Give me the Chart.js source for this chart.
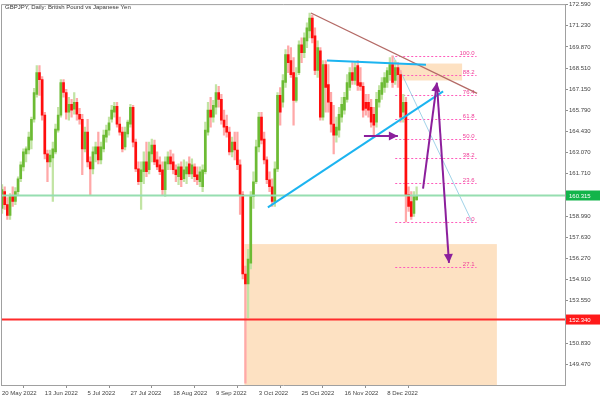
<!DOCTYPE html>
<html><head><meta charset="utf-8">
<script src="https://cdn.jsdelivr.net/npm/chart.js@4/dist/chart.umd.min.js"></script>
<style>html,body{margin:0;padding:0;background:#fff}#wrap{width:600px;height:400px}</style>
</head><body><div id="wrap"><canvas id="c" width="600" height="400"></canvas></div>
<script>
const chartTitle = 'GBPJPY, Daily: British Pound vs Japanese Yen';
const tickLabels = ['20 May 2022','13 Jun 2022','5 Jul 2022','27 Jul 2022','18 Aug 2022','9 Sep 2022','3 Oct 2022','25 Oct 2022','16 Nov 2022','8 Dec 2022'];
const tickEvery = 16;
const yTicks = [172.59,171.23,169.87,168.51,167.15,165.79,164.43,163.07,161.71,158.99,157.63,156.27,154.91,153.55,150.83,149.47];

const opens = [159.48,160.56,159.73,159.03,160.25,159.93,160.56,161.39,162.16,162.99,
163.24,163.88,165.22,166.82,168.22,167.77,165.48,162.99,162.48,162.73,
163.12,164.52,165.48,167.58,166.94,165.67,166.18,165.86,166.31,165.54,
165.22,163.31,164.39,162.48,162.03,162.99,163.44,162.61,163.31,164.07,
164.52,165.22,165.67,166.05,164.90,164.39,163.44,164.27,164.90,165.99,
163.75,162.03,161.20,161.84,162.48,161.97,162.99,163.56,162.61,162.29,
161.97,160.69,162.35,162.80,162.48,161.97,161.52,162.16,161.39,161.71,
162.35,161.71,162.16,161.65,161.20,160.88,161.84,164.39,165.80,165.35,
165.99,166.94,166.50,165.16,164.77,164.39,163.12,163.75,163.24,162.29,
160.37,155.27,154.63,155.97,160.25,161.20,163.44,165.35,163.95,162.61,
161.33,160.88,159.93,162.03,166.75,166.31,167.58,169.37,168.99,168.22,
166.43,168.22,170.00,169.50,170.26,170.90,171.73,170.58,168.35,169.62,
165.35,168.73,167.45,166.31,164.90,164.20,164.52,165.35,165.80,166.50,
167.26,168.22,167.71,168.67,167.58,167.33,166.31,166.31,165.99,165.54,
165.03,166.31,166.82,167.26,167.58,168.09,168.73,167.71,168.54,168.09,
165.67,166.31,160.37,159.93,159.16,160.05];
const highs = [161.01,160.88,160.18,160.44,160.88,160.82,161.52,162.48,163.31,163.44,
164.39,165.35,167.20,168.67,168.67,167.96,165.67,163.24,163.24,163.75,
164.90,165.99,167.77,167.77,167.14,166.63,166.50,166.94,166.56,165.92,
165.54,164.71,165.22,162.80,163.44,163.75,164.39,163.75,164.52,164.84,
165.35,166.11,166.31,166.31,165.35,164.71,164.71,165.16,166.18,166.11,
163.95,162.48,162.48,163.12,163.75,163.75,163.95,163.88,163.12,162.80,
162.48,162.80,163.12,163.24,162.99,162.29,162.35,162.48,162.61,162.48,
162.80,162.67,162.35,162.16,162.16,162.29,165.03,166.31,166.63,166.43,
167.45,167.33,166.82,165.80,165.48,164.71,164.07,164.39,164.39,162.61,
160.56,155.78,156.86,160.56,161.84,163.88,165.67,165.67,164.39,162.80,
161.84,161.39,162.48,166.94,167.26,168.09,169.69,169.94,169.82,169.18,
168.54,170.26,170.45,170.77,171.41,172.05,171.92,171.09,170.26,169.82,
168.99,168.99,168.73,166.95,166.11,165.35,165.99,166.63,166.95,168.09,
168.54,168.86,168.86,168.99,168.54,167.58,166.82,166.82,166.50,165.99,
166.95,167.39,167.90,168.22,168.54,169.18,169.30,168.99,168.86,168.35,
166.82,166.63,160.88,160.56,160.56,160.88];
const lows = [159.16,159.42,158.78,158.78,159.61,159.73,160.37,161.20,161.90,162.48,
162.99,163.31,165.03,166.63,166.75,165.16,162.67,161.20,162.16,159.93,
162.99,164.39,165.35,166.63,165.22,165.16,165.35,165.54,165.16,164.90,
161.65,163.12,162.16,160.37,161.71,162.48,162.35,162.35,163.12,163.75,
164.20,165.03,165.35,164.71,164.20,163.12,163.24,164.07,164.71,163.44,
161.84,161.01,159.42,161.07,161.52,161.71,162.48,162.29,161.97,161.65,
160.37,160.25,161.97,161.97,161.71,161.20,161.01,160.88,161.20,161.07,
161.52,161.39,161.20,161.01,160.88,160.56,161.71,164.20,164.71,165.03,
165.54,165.99,164.90,164.20,164.07,162.92,162.80,162.61,161.97,159.10,
154.95,148.25,152.46,155.59,159.48,161.07,163.12,163.63,162.35,161.07,
160.56,159.61,159.61,161.84,164.84,165.99,167.26,168.22,167.90,164.84,
166.31,168.09,168.86,169.18,169.82,170.45,170.13,168.09,167.90,165.16,
165.16,165.67,165.67,164.39,162.99,163.75,164.07,165.03,165.54,166.31,
167.07,167.45,167.45,167.07,167.07,165.35,165.48,165.35,164.71,164.20,
164.71,165.99,166.50,166.95,167.26,167.71,167.26,167.45,167.26,165.03,
165.03,158.62,159.29,158.78,158.97,159.99];
const closes = [160.69,159.73,159.03,160.25,159.93,160.56,161.39,162.29,163.12,163.31,
164.07,165.22,166.94,168.22,167.77,165.48,162.99,162.48,162.92,163.31,
164.58,165.48,167.58,166.94,165.67,166.18,165.80,166.31,165.54,165.22,
163.31,164.39,162.48,162.03,163.12,163.44,162.61,163.44,164.20,164.52,
164.99,165.80,166.05,164.90,164.39,163.31,164.39,165.03,165.99,163.75,
162.03,161.20,161.97,162.48,161.84,163.12,163.56,162.48,162.16,161.84,
160.69,162.48,162.80,162.35,161.97,161.65,162.16,161.33,161.97,162.16,
161.71,162.29,161.52,161.33,161.84,161.97,164.52,165.80,165.35,166.11,
166.94,166.50,165.16,164.71,164.39,163.12,163.75,163.24,162.29,160.37,
155.27,154.63,156.22,160.25,161.20,163.44,165.35,163.88,162.61,161.33,
160.88,159.93,162.03,166.75,165.67,167.71,169.37,168.86,168.09,166.43,
167.90,170.00,169.50,170.45,171.09,171.73,170.45,168.35,169.82,165.35,
168.73,167.26,166.31,164.90,164.20,164.71,165.54,166.18,166.63,167.58,
168.22,167.71,168.54,167.39,167.33,165.80,165.92,165.80,165.03,164.84,
166.50,167.07,167.58,167.90,168.35,168.73,167.58,168.54,168.09,165.35,
166.31,160.37,159.61,158.97,160.25,160.32];

const lastPrice = 160.315;
const supportLevel = 152.340;
const fibHigh = 169.30, fibLow = 158.62;
const fibLevels = [100, 88.2, 76.4, 61.8, 50, 38.2, 23.6, 0, -27.1];
const fibNames = ['100.0','88.2','76.4','61.8','50.0','38.2','23.6','0.0','27.1'];
const fibSpan = [147, 177.4];
const fibTrend = [[146.2, 169.30], [175.7, 158.62]];
const zones = [
  {from: 90.65, to: 185, top: 157.19, bottom: 140},
  {from: 148, to: 172, top: 168.80, bottom: 167.71}
];
const trendLines = [
  {a: [115.5, 172.05], b: [177.6, 166.88], color: '#b46a66', w: 1.3},
  {a: [99.4, 159.55], b: [164.9, 167.01], color: '#1cb4f0', w: 2},
  {a: [121.5, 168.99], b: [158.5, 168.73], color: '#1cb4f0', w: 2}
];
const arrows = [
  {a: [135.3, 164.14], b: [148.0, 164.14]},
  {a: [157.4, 160.76], b: [162.6, 167.58]},
  {a: [162.6, 167.45], b: [167.1, 155.98]}
];

const idx = opens.map((_, i) => i);
const up = idx.map(i => closes[i] >= opens[i]);
const wickData = idx.map(i => ({x: i, y: [lows[i], highs[i]]}));
const bodyData = idx.map(i => ({x: i, y: [Math.min(opens[i], closes[i]), Math.max(opens[i], closes[i])]}));

const FONT = 'Liberation Sans, Arial, sans-serif';

function head(ctx, x1, y1, x2, y2, len, w) {
  const a = Math.atan2(y2 - y1, x2 - x1);
  const bx = x2 - len * Math.cos(a), by = y2 - len * Math.sin(a);
  ctx.beginPath();
  ctx.moveTo(x2, y2);
  ctx.lineTo(bx + w * Math.sin(a), by - w * Math.cos(a));
  ctx.lineTo(bx - w * Math.sin(a), by + w * Math.cos(a));
  ctx.closePath();
  ctx.fill();
}

const annot = {
  id: 'annot',
  beforeDatasetsDraw(chart) {
    const {ctx, chartArea: ar, scales: {x, y}} = chart;
    ctx.save();
    ctx.beginPath(); ctx.rect(ar.left, ar.top, ar.right - ar.left, ar.bottom - ar.top); ctx.clip();
    zones.forEach(z => {
      const x0 = x.getPixelForValue(z.from), x1 = x.getPixelForValue(z.to);
      const y0 = y.getPixelForValue(z.top), y1 = y.getPixelForValue(z.bottom);
      ctx.fillStyle = '#fde1c2';
      ctx.fillRect(x0, y0, x1 - x0, y1 - y0);
    });
    const xs = x.getPixelForValue(fibSpan[0]), xe = x.getPixelForValue(fibSpan[1]);
    ctx.setLineDash([2, 2]);
    ctx.lineWidth = 1;
    ctx.strokeStyle = '#ff5cbc';
    ctx.font = '6px ' + FONT;
    ctx.textAlign = 'right';
    ctx.textBaseline = 'alphabetic';
    fibLevels.forEach((L, k) => {
      const p = fibLow + (fibHigh - fibLow) * L / 100;
      const py = Math.round(y.getPixelForValue(p)) + 0.5;
      ctx.beginPath(); ctx.moveTo(xs, py); ctx.lineTo(xe, py); ctx.stroke();
      ctx.fillStyle = '#ee3c96';
      ctx.fillText(fibNames[k], xe - 2, py - 2);
    });
    ctx.setLineDash([]);
    ctx.strokeStyle = 'rgba(150,205,230,0.9)';
    ctx.beginPath();
    ctx.moveTo(x.getPixelForValue(fibTrend[0][0]), y.getPixelForValue(fibTrend[0][1]));
    ctx.lineTo(x.getPixelForValue(fibTrend[1][0]), y.getPixelForValue(fibTrend[1][1]));
    ctx.stroke();
    ctx.restore();
  },
  afterDatasetsDraw(chart) {
    const {ctx, chartArea: ar, scales: {x, y}} = chart;
    ctx.save();
    ctx.beginPath(); ctx.rect(ar.left, ar.top, ar.right - ar.left, ar.bottom - ar.top); ctx.clip();
    [[lastPrice, '#96deb0'], [supportLevel, '#ff2b2b']].forEach(([p, c]) => {
      const py = y.getPixelForValue(p);
      ctx.strokeStyle = c; ctx.lineWidth = 2;
      ctx.beginPath(); ctx.moveTo(ar.left, py); ctx.lineTo(ar.right, py); ctx.stroke();
    });
    trendLines.forEach(t => {
      ctx.strokeStyle = t.color; ctx.lineWidth = t.w;
      ctx.beginPath();
      ctx.moveTo(x.getPixelForValue(t.a[0]), y.getPixelForValue(t.a[1]));
      ctx.lineTo(x.getPixelForValue(t.b[0]), y.getPixelForValue(t.b[1]));
      ctx.stroke();
    });
    ctx.strokeStyle = '#8c1f9c'; ctx.fillStyle = '#8c1f9c'; ctx.lineWidth = 2;
    arrows.forEach(t => {
      const x1 = x.getPixelForValue(t.a[0]), y1 = y.getPixelForValue(t.a[1]);
      const x2 = x.getPixelForValue(t.b[0]), y2 = y.getPixelForValue(t.b[1]);
      ctx.beginPath(); ctx.moveTo(x1, y1); ctx.lineTo(x2, y2); ctx.stroke();
      head(ctx, x1, y1, x2, y2, 9, 4.5);
    });
    ctx.restore();
  },
  afterDraw(chart) {
    const {ctx, chartArea: ar, scales: {y}} = chart;
    ctx.save();
    ctx.strokeStyle = '#a0a0a0'; ctx.lineWidth = 1;
    ctx.beginPath();
    ctx.moveTo(ar.left, ar.bottom); ctx.lineTo(ar.left, ar.top); ctx.lineTo(ar.right, ar.top);
    ctx.stroke();
    ctx.fillStyle = '#333';
    ctx.font = '6px ' + FONT;
    ctx.textAlign = 'left'; ctx.textBaseline = 'middle';
    ctx.fillText(chartTitle, 5, 7);
    [[lastPrice, '#12b44a'], [supportLevel, '#ff1a1a']].forEach(([p, c]) => {
      const py = y.getPixelForValue(p);
      ctx.fillStyle = c;
      ctx.fillRect(ar.right + 1, py - 5, 600 - ar.right - 1, 10);
      ctx.fillStyle = '#fff';
      ctx.fillText(p.toFixed(3), ar.right + 4, py + 0.5);
    });
    ctx.restore();
  }
};

new Chart(document.getElementById('c').getContext('2d'), {
  type: 'bar',
  data: {
    datasets: [
      {data: wickData, backgroundColor: up.map(u => u ? '#c2e4a4' : '#ffa8a8'), barThickness: 1.6, grouped: false, order: 2},
      {data: bodyData, backgroundColor: up.map(u => u ? '#6cbb34' : '#ff0d0d'), barThickness: 2, grouped: false, minBarLength: 1, order: 1}
    ]
  },
  options: {
    animation: false, responsive: false, devicePixelRatio: 1,
    layout: {padding: {left: 1.5, top: 1.5, right: 0, bottom: 0}},
    plugins: {legend: {display: false}, tooltip: {enabled: false}, title: {display: false}},
    scales: {
      x: {
        type: 'linear', min: -0.19, max: 210.47, offset: false,
        afterBuildTicks: s => { s.ticks = tickLabels.map((_, k) => ({value: k * tickEvery})); },
        afterFit: s => { s.height = 15; },
        ticks: {autoSkip: false, maxRotation: 0, minRotation: 0, align: 'start', padding: 1.5,
          font: {family: FONT, size: 6}, color: '#444',
          callback: v => tickLabels[Math.round(v / tickEvery)] || ''},
        grid: {drawOnChartArea: false, drawTicks: true, tickLength: 3, color: '#909090'},
        border: {display: true, color: '#a0a0a0'}
      },
      y: {
        type: 'linear', position: 'right', min: 148.13, max: 172.59,
        afterBuildTicks: s => { s.ticks = yTicks.map(v => ({value: v})); },
        afterFit: s => { s.width = 35; },
        ticks: {padding: 1, font: {family: FONT, size: 6}, color: '#444', callback: v => v.toFixed(3)},
        grid: {drawOnChartArea: false, drawTicks: true, tickLength: 3, color: '#909090'},
        border: {display: true, color: '#a0a0a0'}
      }
    }
  },
  plugins: [annot]
});
</script>
</body></html>
